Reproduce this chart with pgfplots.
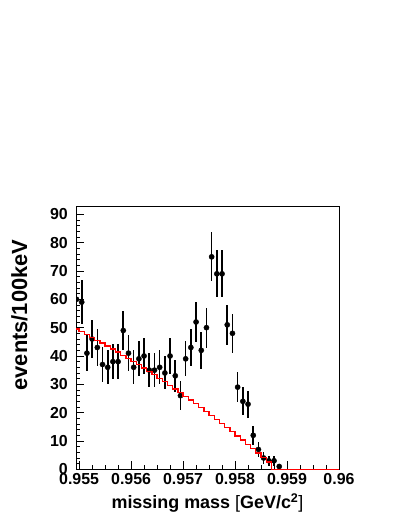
\documentclass[border=0pt]{standalone}
\usepackage{fontspec}
\setmainfont{Liberation Sans}
\usepackage{pgfplots}
\pgfplotsset{compat=1.18}

% measured counts per 100 keV bin (bin centres)
\pgfplotstableread{
x       y   e
0.95495 60  7.75
0.95505 59  7.68
0.95515 41  6.40
0.95525 46  6.78
0.95535 43  6.56
0.95545 37  6.08
0.95555 36  6.00
0.95565 38  6.16
0.95575 38  6.16
0.95585 49  7.00
0.95595 41  6.40
0.95605 36  6.00
0.95615 39  6.24
0.95625 40  6.32
0.95635 35  5.92
0.95645 35  5.92
0.95655 36  6.00
0.95665 34  5.83
0.95675 40  6.32
0.95685 33  5.74
0.95695 26  5.10
0.95705 39  6.24
0.95715 43  6.56
0.95725 52  7.21
0.95735 42  6.48
0.95745 50  7.07
0.95755 75  8.66
0.95765 69  8.31
0.95775 69  8.31
0.95785 51  7.14
0.95795 48  6.93
0.95805 29  5.39
0.95815 24  4.90
0.95825 23  4.80
0.95835 12  3.46
0.95845 7   2.65
0.95855 4   2.00
0.95865 3   1.73
0.95875 3   1.73
0.95885 1   1.00
}\datatable

% background histogram (left bin edges)
\pgfplotstableread{
x      y
0.9549 49.50
0.9550 48.55
0.9551 47.58
0.9552 46.59
0.9553 45.58
0.9554 44.56
0.9555 43.51
0.9556 42.46
0.9557 41.38
0.9558 40.29
0.9559 39.18
0.9560 38.05
0.9561 36.90
0.9562 35.74
0.9563 34.56
0.9564 33.36
0.9565 32.14
0.9566 30.91
0.9567 29.66
0.9568 28.39
0.9569 27.10
0.9570 25.80
0.9571 24.48
0.9572 23.14
0.9573 21.78
0.9574 20.41
0.9575 19.02
0.9576 17.61
0.9577 16.19
0.9578 14.74
0.9579 13.28
0.9580 11.80
0.9581 10.31
0.9582 8.79
0.9583 7.26
0.9584 5.71
0.9585 4.15
0.9586 2.57
0.9587 0
0.9600 0
}\bgtable

\begin{document}
\begin{tikzpicture}
\useasboundingbox (0,0) rectangle (407bp,527bp);
\begin{axis}[
  at={(76bp,57.7bp)}, anchor=south west,
  width=263bp, height=262.6bp, scale only axis,
  xmin=0.95494, xmax=0.96, ymin=0, ymax=92.7,
  clip marker paths=true,
  xtick={0.955,0.956,0.957,0.958,0.959,0.96},
  xticklabels={0.955,0.956,0.957,0.958,0.959,0.96},
  ytick={0,10,...,90},
  yticklabels={0,10,20,30,40,50,60,70,80,90},
  minor x tick num=3, minor y tick num=4,
  tick align=inside, xtick pos=bottom, ytick pos=left,
  major tick length=8bp, minor tick length=4bp,
  axis line style={line width=0.8bp},
  tick style={black, line width=0.8bp},
  ticklabel style={font=\fontsize{16}{16}\selectfont\bfseries},
  yticklabel style={inner sep=0pt, xshift=-8bp},
  xticklabel style={inner sep=0pt, yshift=-3.7bp},
  xlabel={missing mass {\mdseries[}GeV/c\textsuperscript{2}{\mdseries]}},
  xlabel style={font=\fontsize{18}{18}\selectfont\bfseries,
    at={(axis description cs:0.5,0)}, anchor=north, inner sep=0pt, yshift=-24bp},
  ylabel={events/100keV},
  ylabel style={font=\fontsize{22}{22}\selectfont\bfseries,
    at={(axis description cs:-0.1863,0.5876)}, anchor=base, inner sep=0pt},
]
\addplot[only marks, mark=*, mark size=2.6bp, black,
  error bars/.cd, y dir=both, y explicit, error mark=none,
  error bar style={line width=1.6bp, black}]
  table[x=x, y=y, y error=e] {\datatable};
\addplot[const plot, red, line width=1.3bp] table[x=x, y=y] {\bgtable};
\end{axis}
\end{tikzpicture}
\end{document}
